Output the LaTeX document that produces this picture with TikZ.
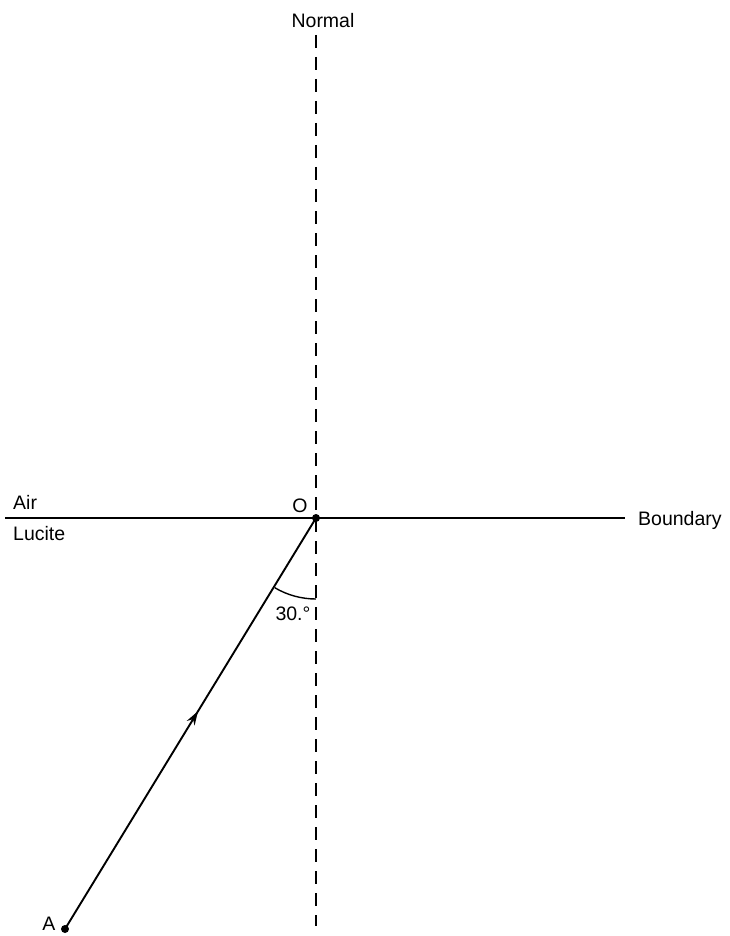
\documentclass[tikz,border=0pt]{standalone}
\usepackage{fontspec}
\setmainfont{Liberation Sans}
\usetikzlibrary{arrows.meta,decorations.markings}
\begin{document}
\begin{tikzpicture}[x=1pt,y=-1pt,
  lbl/.style={inner sep=0pt,font=\fontsize{19.5}{19.5}\selectfont},
  ln/.style={line width=1.9pt},
  dashline/.style={line width=1.9pt,dash pattern=on 13pt off 9pt},
  midarrow/.style={postaction={decorate},decoration={markings,
     mark=at position 0.53 with {\arrow{Stealth[length=14pt,width=9pt]}}}}]
\useasboundingbox (0,0) rectangle (730,936);
\coordinate (O) at (316,518);
\coordinate (A) at (65,929);
\coordinate (ntop) at (316,35);
\coordinate (nbot) at (316,926);
\coordinate (bl) at (5,518);
\coordinate (br) at (625,518);
\draw[dashline] (ntop) -- (nbot);
\draw[ln] (bl) -- (br);
\draw[ln,midarrow] (A) -- (O);
\fill (O) circle (4pt);
\fill (A) circle (4pt);
\draw[line width=1.4pt] (316,599) arc[start angle=90,end angle=120.5,radius=81];
\node[lbl] (normal) at (323,21) {Normal};
\node[lbl,anchor=west] (air) at (13,502) {Air};
\node[lbl,anchor=west] (lucite) at (13,534) {Lucite};
\node[lbl] (olbl) at (300,506) {O};
\node[lbl,anchor=west] (boundary) at (638,520) {Boundary};
\node[lbl] (ang) at (293,614) {30.°};
\node[lbl] (albl) at (49,924) {A};
\end{tikzpicture}
\end{document}
